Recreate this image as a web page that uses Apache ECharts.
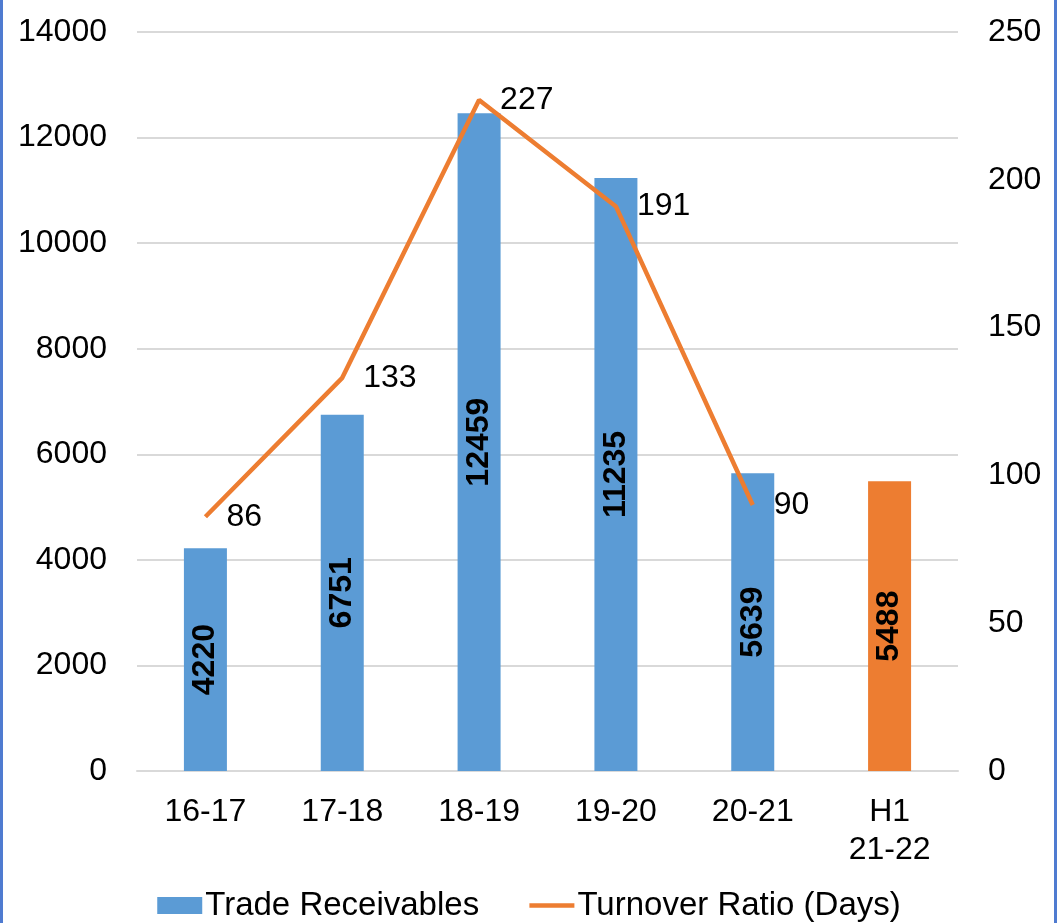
<!DOCTYPE html>
<html>
<head>
<meta charset="utf-8">
<style>
  html, body { margin: 0; padding: 0; background: #fff; }
  #wrap { position: relative; width: 1058px; height: 923px; }
  #chart { width: 1058px; height: 923px; }
  .edge { position: absolute; top: 0; bottom: 0; width: 3px; background: #4F7BD0; }
</style>
<script src="https://cdn.jsdelivr.net/npm/echarts@6/dist/echarts.min.js"></script>
</head>
<body>
<div id="wrap">
  <div id="chart"></div>
  <div class="edge" style="left:0"></div>
  <div class="edge" style="left:1054px"></div>
</div>
<script>
// Financial years
const categories = ['16-17', '17-18', '18-19', '19-20', '20-21', 'H1\n21-22'];
// Trade receivables (bars, left axis)
const receivables = [4220, 6751, 12459, 11235, 5639, 5488];
// Turnover ratio in days (line, right axis); no value for the half year
const turnoverDays = [86, 133, 227, 191, 90, null];
// Left and right axis ranges
const leftAxis = { min: 0, max: 14000, interval: 2000 };
const rightAxis = { min: 0, max: 250, interval: 50 };

const BLUE = '#5B9BD5';
const ORANGE = '#ED7D31';
const FONT = 'Liberation Sans, Arial, sans-serif';
const SIZE = 32;

// The half-year bar is highlighted in orange
const barData = receivables.map((v, i) => (
  i === receivables.length - 1 ? { value: v, itemStyle: { color: ORANGE } } : v
));

const chart = echarts.init(document.getElementById('chart'), null, { renderer: 'canvas' });
chart.setOption({
  animation: false,
  textStyle: { fontFamily: FONT },
  grid: { left: 137, right: 100, top: 32, bottom: 152, containLabel: false },
  legend: {
    bottom: -4,
    left: 'center',
    itemWidth: 45,
    itemHeight: 17,
    itemGap: 48,
    textStyle: { fontSize: 33, color: '#000', fontFamily: FONT, padding: [0, 0, 0, -2] },
    data: [
      { name: 'Trade Receivables', icon: 'rect' },
      { name: 'Turnover Ratio (Days)', itemStyle: { opacity: 0 }, lineStyle: { width: 4.5, color: ORANGE } }
    ]
  },
  xAxis: {
    type: 'category',
    data: categories,
    axisLine: { lineStyle: { color: '#D9D9D9', width: 2 } },
    axisTick: { show: false },
    axisLabel: { fontSize: SIZE, color: '#000', margin: 22, lineHeight: 38, fontFamily: FONT }
  },
  yAxis: [
    {
      type: 'value',
      min: leftAxis.min, max: leftAxis.max, interval: leftAxis.interval,
      axisLine: { show: false },
      axisTick: { show: false },
      splitLine: { lineStyle: { color: '#D9D9D9', width: 2 } },
      axisLabel: { fontSize: SIZE, color: '#000', margin: 30, fontFamily: FONT, formatter: v => String(v) }
    },
    {
      type: 'value',
      min: rightAxis.min, max: rightAxis.max, interval: rightAxis.interval,
      axisLine: { show: false },
      axisTick: { show: false },
      splitLine: { show: false },
      axisLabel: { fontSize: SIZE, color: '#000', margin: 30, fontFamily: FONT, formatter: v => String(v) }
    }
  ],
  series: [
    {
      name: 'Trade Receivables',
      type: 'bar',
      yAxisIndex: 0,
      barWidth: 43,
      itemStyle: { color: BLUE },
      data: barData,
      label: {
        show: true,
        position: 'inside',
        rotate: 90,
        align: 'center',
        verticalAlign: 'middle',
        fontSize: SIZE,
        fontWeight: 'bold',
        color: '#000',
        fontFamily: FONT
      },
      z: 2
    },
    {
      name: 'Turnover Ratio (Days)',
      type: 'line',
      yAxisIndex: 1,
      data: turnoverDays,
      connectNulls: false,
      symbol: 'circle',
      symbolSize: 0,
      showSymbol: true,
      lineStyle: { color: ORANGE, width: 4.5 },
      itemStyle: { color: ORANGE },
      label: {
        show: true,
        position: 'right',
        distance: 21,
        fontSize: SIZE,
        color: '#000',
        fontFamily: FONT
      },
      z: 3
    }
  ]
});
</script>
</body>
</html>
